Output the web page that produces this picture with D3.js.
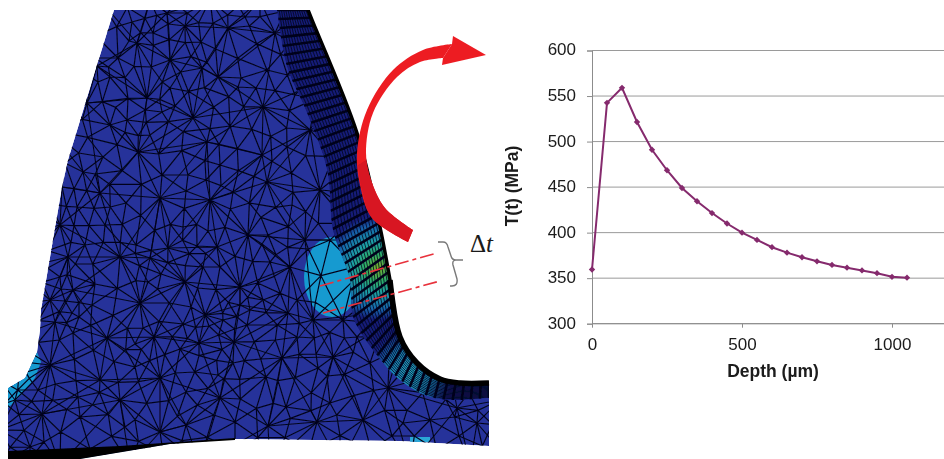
<!DOCTYPE html>
<html>
<head>
<meta charset="utf-8">
<script src="https://cdn.jsdelivr.net/npm/d3@7"></script>
<style>
  html, body { margin: 0; padding: 0; background: #fff; overflow: hidden; }
  text { font-family: "Liberation Sans", Arial, sans-serif; fill: #1a1a1a; }
</style>
</head>
<body>
<svg id="fig" width="944" height="459"></svg>
<script>
// chart values
const depth = [0, 50, 100, 150, 200, 250, 300, 350, 400, 450, 500, 550, 600, 650, 700, 750, 800, 850, 900, 950, 1000, 1050];
const stress = [359.5, 542.5, 559, 521.5, 491, 468.5, 449, 434.5, 421.5, 410, 400, 392, 384, 378, 373, 368.5, 364.5, 361.5, 358.5, 355.5, 351.5, 350.5];
const xTicks = [0, 500, 1000];
const yTicks = [300, 350, 400, 450, 500, 550, 600];

// mesh nodes
const meshNodes = [
  [185,26],[201,42],[137,43],[118,58],[97,66],[132,22],[167,13],[153,33],[228,28],[245,17],[218,77],[238,87],
  [202,68],[162,112],[193,118],[127,120],[147,98],[170,88],[207,142],[230,126],[138,152],[103,157],[87,103],
  [110,77],[275,33],[267,70],[263,107],[287,147],[262,155],[83,172],[62,187],[126,203],[160,198],[188,175],
  [210,200],[233,192],[267,182],[292,205],[248,235],[268,235],[217,247],[197,246],[168,248],[136,245],[120,257],
  [85,245],[68,257],[60,277],[73,290],[92,305],[150,258],[148,282],[185,282],[203,267],[240,287],[270,262],
  [290,267],[263,300],[140,303],[183,227],[100,193],[77,207],[55,322],[72,313],[107,338],[135,344],[154,337],
  [183,324],[205,315],[223,320],[240,305],[247,325],[288,313],[297,337],[199,343],[180,349],[234,342],[233,363],
  [282,358],[266,377],[220,398],[186,392],[186,425],[125,427],[100,380],[80,417],[42,414],[38,390],[15,400],
  [73,333],[50,365],[135,367],[160,378],[286,407],[268,426],[235,422],[317,422],[318,368],[30,447],[78,397],
  [120,400],[218,375],[160,432],[330,403],[388,388],[357,337],[313,320],[343,320],[333,357],[370,363],[457,408],
  [430,420],[477,423],[403,423],[363,420],[300,60],[310,130],[295,95],[320,190],[330,240],[170,60],[110,125],
  [60,225],[105,225],[50,300],[220,165],[305,240],[150,135]
];
// nodes just outside the tooth so the triangles run out to its edge
const rimNodes = [
  [100,0],[150,0],[210,0],[260,0],[320,0],[70,50],[50,130],[30,200],[15,270],[10,340],[0,380],[0,430],[0,465],
  [60,465],[130,465],[200,465],[270,465],[340,465],[410,465],[470,465],[500,450],[500,400],[345,70],[370,150],
  [395,240],[410,310],[450,370]
];

// tooth outline, flank and band edges, same reading
const toothLeft = [[114,10],[97,65],[68,160],[62,187],[41,310],[40,330],[37,352],[25,378],[8,388],[8,459],[80,459],[170,444],[235,439],[400,441],[489,446],[489,383]];
const flankEdge = [[308,10],[312,20],[357,133],[380,227],[390,280],[400,337],[417,363],[440,379],[460,383],[489,383]];
const bandEdge = [[277,10],[287,67],[307,113],[327,170],[333,230],[350,280],[353,317],[373,350],[400,380],[430,397],[457,400],[489,398]];
const rootCyan = [[37,352],[25,378],[8,388],[8,408],[20,396],[35,378],[41,362]];
const rootWedge = [[8,451],[120,446],[235,438],[235,440],[170,444],[80,459],[8,459]];
const arrowHead = [[443,58],[442,65],[486,55],[453,36],[452,44]];
const arrowOuter = [[452,44],[423,50],[393,70],[367,110],[357,153],[360,185],[372,218],[408,242]];
const arrowInner = [[413,230],[385,208],[371,180],[366,153],[373,113],[397,77],[420,62],[443,58]];
const arrowShadeOuter = [[358,165],[362,190],[372,218],[408,242]];
const arrowShadeInner = [[413,230],[385,208],[371,180],[366,160]];

const svg = d3.select("#fig");
const defs = svg.append("defs");

defs.append("filter").attr("id", "soft").append("feGaussianBlur").attr("stdDeviation", 0.6);
defs.append("filter").attr("id", "softText").append("feGaussianBlur").attr("stdDeviation", 0.3);

const smooth = d3.line().curve(d3.curveCatmullRom.alpha(0.5));
const sharp = d3.line();

const flankPts = sample(flankEdge, 54);
const bandPts = sample(bandEdge, 54);

function sample(pts, n) {
  const p = svg.append("path").attr("d", smooth(pts)).attr("fill", "none");
  const len = p.node().getTotalLength();
  const out = d3.range(n + 1).map(i => {
    const q = p.node().getPointAtLength(len * i / n);
    return [q.x, q.y];
  });
  p.remove();
  return out;
}

const toothPts = toothLeft.concat(flankPts.slice().reverse());
const bandPoly = flankPts.concat(bandPts.slice().reverse());

defs.append("clipPath").attr("id", "toothClip").append("path").attr("d", sharp(toothPts) + "Z");
defs.append("clipPath").attr("id", "bandClip").append("path").attr("d", sharp(bandPoly) + "Z");

const hot = defs.append("radialGradient").attr("id", "hot").attr("gradientUnits", "userSpaceOnUse")
  .attr("cx", 378).attr("cy", 268).attr("r", 52);
[[0, "#7fb02a"], [0.25, "#2fae66"], [0.5, "#1c9fa6"], [0.8, "#1764ac"], [1, "#141c78"]].forEach(s =>
  hot.append("stop").attr("offset", s[0]).attr("stop-color", s[1]));

const fillet = defs.append("radialGradient").attr("id", "fillet").attr("gradientUnits", "userSpaceOnUse")
  .attr("cx", 412).attr("cy", 372).attr("r", 42);
[[0, "#22a6c4"], [0.55, "#187cb0"], [1, "#141c78"]].forEach(s =>
  fillet.append("stop").attr("offset", s[0]).attr("stop-color", s[1]));

// finite element picture
const fe = svg.append("g").attr("filter", "url(#soft)");
const tooth = fe.append("g").attr("clip-path", "url(#toothClip)");

tooth.append("path").attr("d", sharp(toothPts) + "Z").attr("fill", "#27329a");
tooth.append("ellipse").attr("cx", 332).attr("cy", 277).attr("rx", 28).attr("ry", 40).attr("fill", "#169ad0");
tooth.append("path").attr("d", sharp(rootCyan) + "Z").attr("fill", "#169ad0");
tooth.append("rect").attr("x", 410).attr("y", 437).attr("width", 20).attr("height", 5).attr("fill", "#2aa6d6");

// the mesh is a see-through solid, so two triangulations lie over each other;
// the front one gets a node in the middle of each triangle
const allNodes = meshNodes.concat(rimNodes);
const base = d3.Delaunay.from(allNodes);
const centres = d3.range(base.triangles.length / 3).map(t => {
  const [a, b, c] = [base.triangles[3 * t], base.triangles[3 * t + 1], base.triangles[3 * t + 2]];
  return [d3.mean([a, b, c], i => allNodes[i][0]), d3.mean([a, b, c], i => allNodes[i][1])];
});
const backNodes = meshNodes.filter((d, i) => i % 2 === 0).concat(rimNodes);
[[allNodes.concat(centres), 1.2], [backNodes, 1.1]].forEach(([nodes, w]) => {
  tooth.append("path")
    .attr("d", d3.Delaunay.from(nodes).render())
    .attr("fill", "none")
    .attr("stroke", "#04061e")
    .attr("stroke-width", w);
});

// fine band along the flank
const band = fe.append("g").attr("clip-path", "url(#bandClip)");
band.append("path").attr("d", sharp(bandPoly) + "Z").attr("fill", "#141c78");
band.append("rect").attr("x", 320).attr("y", 215).attr("width", 90).attr("height", 110).attr("fill", "url(#hot)");
band.append("rect").attr("x", 360).attr("y", 325).attr("width", 100).attr("height", 85).attr("fill", "url(#fillet)");

const rungs = d3.range(flankPts.length).map(i => [flankPts[i], bandPts[i]]);
band.selectAll("line.rung").data(rungs).join("line")
  .attr("class", "rung")
  .attr("x1", d => d[0][0]).attr("y1", d => d[0][1])
  .attr("x2", d => d[1][0]).attr("y2", d => d[1][1])
  .attr("stroke", "#03051c").attr("stroke-width", 2.6);
d3.range(1, 14).forEach(k => {
  const t = k / 14;
  band.append("path")
    .attr("d", sharp(rungs.map(r => [r[0][0] + (r[1][0] - r[0][0]) * t, r[0][1] + (r[1][1] - r[0][1]) * t])))
    .attr("fill", "none").attr("stroke", "#03051c").attr("stroke-width", 0.8);
});

// black rim of the flank and the root
fe.append("path").attr("d", smooth(flankEdge)).attr("fill", "none").attr("stroke", "#000").attr("stroke-width", 3.5);
fe.append("path").attr("d", smooth(flankEdge.slice(4))).attr("fill", "none").attr("stroke", "#000").attr("stroke-width", 5.5);
fe.append("path").attr("d", sharp(rootWedge) + "Z").attr("fill", "#000");

// white strip above the cut at the top
fe.append("rect").attr("x", 0).attr("y", 0).attr("width", 520).attr("height", 10).attr("fill", "#fff");

// bending arrow
const ribbon = (a, b) => smooth(a) + "L" + smooth(b).slice(1) + "Z";
fe.append("path").attr("d", ribbon(arrowOuter, arrowInner)).attr("fill", "#ed1c24");
fe.append("path").attr("d", sharp(arrowHead) + "Z").attr("fill", "#ed1c24");
fe.append("path").attr("d", ribbon(arrowShadeOuter, arrowShadeInner)).attr("fill", "#d81920");

// thickness marks
[[[320, 286], [437, 253]], [[323, 313], [440, 281]]].forEach(d => {
  svg.append("path").attr("d", sharp(d)).attr("fill", "none")
    .attr("stroke", "#e8323c").attr("stroke-width", 1.6).attr("stroke-dasharray", "14 4 4 4");
});
svg.append("path")
  .attr("d", "M438,242 H443 Q447,242 448,247 L451,256 Q452,260 456,260 H463 M456,260 Q452,260 453,265 L457,279 Q458,286 452,286 H450")
  .attr("fill", "none").attr("stroke", "#7a7a7a").attr("stroke-width", 1.4);
const delta = svg.append("text").attr("x", 470).attr("y", 252).attr("font-size", 25).style("font-family", "'Liberation Serif', serif");
delta.append("tspan").text("Δ");
delta.append("tspan").attr("font-style", "italic").text("t");

// line chart
const x = d3.scaleLinear().domain([0, 1200]).range([592, 952]);
const y = d3.scaleLinear().domain([300, 600]).range([323.7, 50.5]);

const chart = svg.append("g").attr("filter", "url(#softText)");

chart.append("g").selectAll("line").data(yTicks).join("line")
  .attr("x1", x(0)).attr("x2", 944)
  .attr("y1", d => y(d)).attr("y2", d => y(d))
  .attr("stroke", "#9a9a9a").attr("stroke-width", 1);

const yAxis = chart.append("g").attr("transform", `translate(${x(0)},0)`)
  .call(d3.axisLeft(y).tickValues(yTicks).tickSize(5).tickPadding(11));
const xAxis = chart.append("g").attr("transform", `translate(0,${y(300)})`)
  .call(d3.axisBottom(x).tickValues(xTicks).tickFormat(d3.format("d")).tickSize(4).tickPadding(10));
[yAxis, xAxis].forEach(a => {
  a.selectAll("path, line").attr("stroke", "#8c8c8c");
  a.selectAll("text").attr("font-size", 17).style("font-family", "'Liberation Sans', Arial, sans-serif").style("fill", "#1a1a1a");
});
yAxis.selectAll("text").attr("y", -1);
xAxis.select("path.domain").attr("d", `M${x(0)},0H944`);

chart.append("path").datum(depth.map((d, i) => [d, stress[i]]))
  .attr("d", d3.line().x(d => x(d[0])).y(d => y(d[1])))
  .attr("fill", "none").attr("stroke", "#852a6d").attr("stroke-width", 2);

chart.selectAll("path.dot").data(depth.map((d, i) => [d, stress[i]])).join("path")
  .attr("class", "dot")
  .attr("transform", d => `translate(${x(d[0])},${y(d[1])}) rotate(45)`)
  .attr("d", d3.symbol().type(d3.symbolSquare).size(20))
  .attr("fill", "#852a6d");

chart.append("text").attr("x", 773).attr("y", 377).attr("text-anchor", "middle")
  .attr("font-size", 17.5).attr("font-weight", "bold").text("Depth (µm)");
chart.append("text").attr("transform", "translate(518,186) rotate(-90)").attr("text-anchor", "middle")
  .attr("font-size", 17.5).attr("font-weight", "bold").text("T(t) (MPa)");
</script>
</body>
</html>
